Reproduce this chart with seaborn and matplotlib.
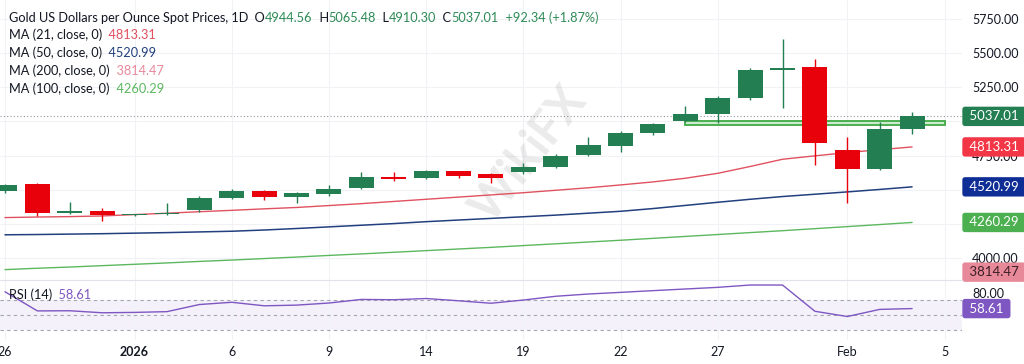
import numpy as np
import pandas as pd
import matplotlib
matplotlib.use("Agg")
import matplotlib.pyplot as plt
import seaborn as sns
from matplotlib.patches import Rectangle

# ---------------- data ----------------
dates = ["Dec 26", "Dec 29", "Dec 30", "Dec 31", "Jan 1", "Jan 2", "Jan 5", "Jan 6",
         "Jan 7", "Jan 8", "Jan 9", "Jan 12", "Jan 13", "Jan 14", "Jan 15", "Jan 16",
         "Jan 19", "Jan 20", "Jan 21", "Jan 22", "Jan 23", "Jan 26", "Jan 27", "Jan 28",
         "Jan 29", "Jan 30", "Feb 2", "Feb 3", "Feb 4"]
opens = [4491, 4540, 4330, 4342, 4313, 4320, 4352, 4442, 4491, 4449, 4471, 4515, 4593, 4584,
         4635, 4613, 4628, 4669, 4752, 4822, 4917, 5005, 5052, 5169, 5374, 5396, 4791, 4650,
         4944.56]
highs = [4540, 4547, 4408, 4368, 4321, 4401, 4454, 4503, 4500, 4481, 4537, 4628, 4632, 4644,
         4639, 4620, 4693, 4762, 4888, 4932, 4986, 5113, 5186, 5389, 5601, 5455, 4884, 4998,
         5065.48]
lows = [4478, 4306, 4325, 4273, 4310, 4316, 4334, 4430, 4425, 4405, 4456, 4503, 4566, 4578,
        4584, 4547, 4615, 4659, 4747, 4774, 4898, 4998, 4991, 5157, 5101, 4681, 4400, 4644,
        4910.30]
closes = [4535, 4332, 4344, 4313, 4318, 4332, 4442, 4491, 4449, 4478, 4505, 4591, 4581, 4635,
          4603, 4584, 4669, 4749, 4827, 4917, 4979, 5054, 5174, 5377, 5393, 4844, 4650, 4944.67,
          5037.01]
ma21 = [4296, 4300, 4303, 4308, 4318, 4328, 4339, 4349, 4360, 4370, 4384, 4398, 4414, 4430,
        4446, 4462, 4478, 4496, 4514, 4535, 4557, 4584, 4620, 4670, 4723, 4748, 4772, 4793,
        4813.31]
ma50 = [4170, 4172, 4175, 4178, 4182, 4186, 4191, 4196, 4205, 4216, 4228, 4240, 4252, 4266,
        4278, 4290, 4302, 4314, 4328, 4342, 4362, 4385, 4408, 4430, 4450, 4467, 4484, 4502,
        4520.99]
ma100 = [3915, 3925, 3934, 3944, 3954, 3964, 3975, 3985, 3996, 4007, 4019, 4030, 4042, 4054,
         4066, 4078, 4091, 4104, 4117, 4130, 4144, 4158, 4172, 4186, 4200, 4215, 4230, 4245,
         4260.29]
ma200_last = 3814.47
rsi = [81, 55.5, 55.7, 53, 53.5, 54.5, 64, 67, 62.3, 63.2, 66, 70.8, 70.4, 72, 69, 65.7, 70,
       75, 78, 80.2, 82.5, 84.7, 86.9, 90, 90, 55, 48, 57.5, 58.61]
rsi_levels = [70, 50, 30]

x_tick_pos = [0, 4, 7, 10, 13, 16, 19, 22, 26, 29]
x_tick_labels = ["26", "2026", "6", "9", "14", "19", "22", "27", "Feb", "5"]
price_ticks = [4000, 4250, 4500, 4750, 5000, 5250, 5500, 5750]
price_tick_labels = ["4000.00", "", "", "4750.00", "", "5250.00", "5500.00", "5750.00"]
rsi_ticks = [80]

zone_start, zone_end = 21, 29
zone_low, zone_high = 4975, 5005

df = pd.DataFrame({"date": dates, "open": opens, "high": highs, "low": lows,
                   "close": closes, "ma21": ma21, "ma50": ma50, "ma100": ma100, "rsi": rsi})
df["i"] = np.arange(len(df))

# ---------------- style ----------------
sns.set_theme(style="white")
plt.rcParams["font.family"] = ["Lato", "DejaVu Sans"]

UP = "#237F52"
DOWN = "#E8000B"
C21 = "#E0525F"
C50 = "#22407F"
C100 = "#5CB85F"
C200 = "#E8899A"
CRSI = "#7E57C2"
TXT = "#131722"
GRID = "#F0F2F6"

W, H = 1024, 364
fig = plt.figure(figsize=(W / 100, H / 100), dpi=100)
fig.patch.set_facecolor("white")
pr = 962
ax = fig.add_axes([0, 1 - 280 / H, pr / W, 280 / H])
rax = fig.add_axes([0, 1 - 340 / H, pr / W, 60 / H], sharex=ax)

# ---------------- price panel ----------------
colors = [UP if c >= o else DOWN for o, c in zip(df["open"], df["close"])]
ax.vlines(df["i"], df["low"], df["high"], colors=colors, lw=1.0, zorder=4)
body_low = np.minimum(df["open"], df["close"])
body_h = np.maximum(np.abs(df["close"] - df["open"]), 6)
ax.bar(df["i"], body_h, bottom=body_low, width=0.77, color=colors, lw=0, zorder=5)

sns.lineplot(data=df, x="i", y="ma21", ax=ax, color=C21, lw=1.0, zorder=3)
sns.lineplot(data=df, x="i", y="ma50", ax=ax, color=C50, lw=1.1, zorder=3)
sns.lineplot(data=df, x="i", y="ma100", ax=ax, color=C100, lw=1.0, zorder=3)

ax.add_patch(Rectangle((zone_start, zone_low), zone_end - zone_start, zone_high - zone_low,
                       facecolor="#CDEBCF", edgecolor="#4CAF50", lw=1.4, zorder=3.5))
ax.axhline(df["close"].iloc[-1], ls=(0, (1, 2)), color="#9598A1", lw=0.8, zorder=2)

ax.set_xlim(-0.154, 29.54)
ax.set_ylim(3839, 5889)
ax.set_yticks(price_ticks)
ax.set_yticklabels(price_tick_labels)
ax.yaxis.tick_right()
ax.tick_params(axis="y", length=0, pad=7.2, labelsize=9, labelcolor=TXT)
ax.tick_params(axis="x", length=0, labelbottom=False)
ax.set_xticks(x_tick_pos)
ax.grid(True, color=GRID, lw=0.8)
ax.set_xlabel("")
ax.set_ylabel("")
for s in ax.spines.values():
    s.set_visible(False)

# watermark
ax.text(0.55, 0.45, "WikiFX", transform=ax.transAxes, rotation=52, fontsize=34,
        fontweight="bold", color="#808080", alpha=0.16, ha="center", va="center", zorder=1)

# ---------------- RSI panel ----------------
rax.axhspan(min(rsi_levels), max(rsi_levels), color=CRSI, alpha=0.08, lw=0, zorder=0)
for lv in rsi_levels:
    rax.axhline(lv, ls=(0, (3, 3)), color="#A3A6AF", lw=0.8, zorder=1)
sns.lineplot(data=df, x="i", y="rsi", ax=rax, color=CRSI, lw=1.0, zorder=3)
rax.set_ylim(16.7, 96.7)
rax.set_yticks(rsi_ticks)
rax.set_yticklabels([f"{v:.2f}" for v in rsi_ticks])
rax.yaxis.tick_right()
rax.tick_params(axis="y", length=0, pad=7.2, labelsize=9, labelcolor=TXT)
rax.set_xticks(x_tick_pos)
rax.set_xticklabels(x_tick_labels)
rax.tick_params(axis="x", length=0, pad=4, labelsize=9, labelcolor=TXT)
rax.get_xticklabels()[1].set_fontweight("bold")
rax.grid(True, axis="x", color=GRID, lw=0.8)
rax.set_xlabel("")
rax.set_ylabel("")
for k, s in rax.spines.items():
    s.set_visible(k == "top")
rax.spines["top"].set_color("#E0E3EB")
rax.spines["top"].set_linewidth(0.8)


# ---------------- right-scale tags ----------------
def tag(axis, y, text, bg, ycoords="data"):
    axis.annotate(f" {text} ", xy=(1, y), xycoords=("axes fraction", ycoords),
                  xytext=(2.9, 0), textcoords="offset points", ha="left", va="center",
                  color="white", fontsize=9.5,
                  bbox=dict(boxstyle="round,pad=0.28,rounding_size=0.2", fc=bg, ec="none"),
                  annotation_clip=False, zorder=10)


tag(ax, df["close"].iloc[-1], f"{df['close'].iloc[-1]:.2f}", UP)
tag(ax, df["ma21"].iloc[-1], f"{df['ma21'].iloc[-1]:.2f}", "#F23645")
tag(ax, df["ma50"].iloc[-1], f"{df['ma50'].iloc[-1]:.2f}", "#0E2E96")
tag(ax, df["ma100"].iloc[-1], f"{df['ma100'].iloc[-1]:.2f}", "#4CAF50")
ax.annotate(f" {ma200_last:.2f} ", xy=(1, 0.028), xycoords="axes fraction",
            xytext=(2.9, 0), textcoords="offset points", ha="left", va="center",
            color="#3A1F25", fontsize=9.5,
            bbox=dict(boxstyle="round,pad=0.28,rounding_size=0.2", fc=C200, ec="none"),
            annotation_clip=False, zorder=10)
tag(rax, df["rsi"].iloc[-1], f"{df['rsi'].iloc[-1]:.2f}", CRSI)


# ---------------- header texts ----------------
def chain(axis, x, y, parts, size=9.2):
    first = axis.text(x, y, parts[0][0], color=parts[0][1], fontsize=size,
                      transform=axis.transAxes, ha="left", va="bottom", zorder=12)
    prev = first
    for s, c in parts[1:]:
        prev = axis.annotate(s, xy=(1, 0), xycoords=prev, ha="left", va="bottom",
                             color=c, fontsize=size, annotation_clip=False, zorder=12)


o_, h_, l_, c_ = opens[-1], highs[-1], lows[-1], closes[-1]
chg = c_ - closes[-2]
pct = chg / closes[-2] * 100
GV = "#2E8B57"


def yfrac(axis_top_px, axis_h_px, ypx):
    return 1 - (ypx - axis_top_px) / axis_h_px


chain(ax, 9 / pr, yfrac(0, 280, 24), [
    ("Gold US Dollars per Ounce Spot Prices, 1D", TXT),
    ("  O", TXT), (f"{o_:.2f}", GV),
    ("  H", TXT), (f"{h_:.2f}", GV),
    ("  L", TXT), (f"{l_:.2f}", GV),
    ("  C", TXT), (f"{c_:.2f}", GV),
    (f"  {chg:+.2f} ({pct:+.2f}%)", GV)])
ma_rows = [("MA (21, close, 0)", ma21[-1], C21, 41),
           ("MA (50, close, 0)", ma50[-1], C50, 59),
           ("MA (200, close, 0)", ma200_last, C200, 77),
           ("MA (100, close, 0)", ma100[-1], C100, 95)]
for lab, val, col, ypx in ma_rows:
    chain(ax, 9 / pr, yfrac(0, 280, ypx), [(lab, TXT), (f"  {val:.2f}", col)])
chain(rax, 9 / pr, (301 - 280) / 60 * -1 + 1, [("RSI (14)", TXT), (f"  {rsi[-1]:.2f}", CRSI)])

fig.savefig("out.png", dpi=100, facecolor="white")
